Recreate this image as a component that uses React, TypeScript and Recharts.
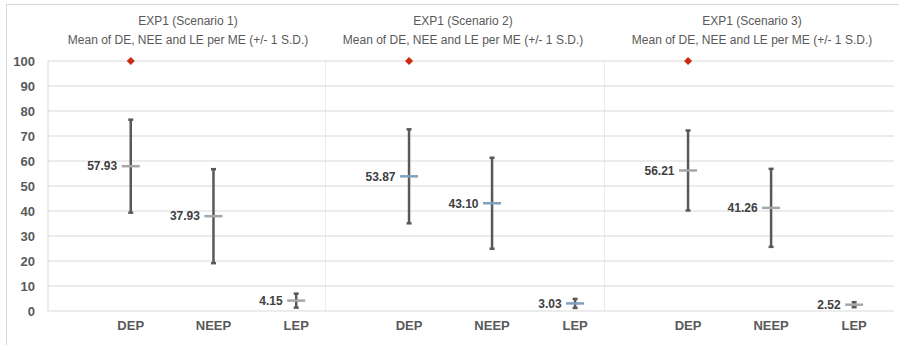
import { ComposedChart, Scatter, ErrorBar, XAxis, YAxis, CartesianGrid, ReferenceLine, LabelList } from 'recharts';

const categories = ['DEP', 'NEEP', 'LEP'];
const scenarioTitles = ['EXP1 (Scenario 1)', 'EXP1 (Scenario 2)', 'EXP1 (Scenario 3)'];
const subTitle = 'Mean of DE, NEE and LE per ME (+/- 1 S.D.)';

const means1 = [57.93, 37.93, 4.15];
const sds1 = [18.6, 18.8, 2.8];
const means2 = [53.87, 43.1, 3.03];
const sds2 = [18.8, 18.2, 1.8];
const means3 = [56.21, 41.26, 2.52];
const sds3 = [16.0, 15.6, 1.0];

// red marker shown above DEP in every panel
const maxDEP = [100, 100, 100];

const yTicks = [0, 10, 20, 30, 40, 50, 60, 70, 80, 90, 100];

const FONT = '"Liberation Sans", Arial, sans-serif';

type PanelProps = {
  left: number;
  width: number;
  titleCenter: number;
  title: string;
  means: number[];
  sds: number[];
  maxValue: number;
  markerColor: string;
  showYAxis: boolean;
  xMax: number;
  edgeLines: number[];
};

const Panel = ({ left, width, titleCenter, title, means, sds, maxValue, markerColor, showYAxis, xMax, edgeLines }: PanelProps) => {
  const data = categories.map((c, i) => ({ x: i + 1, mean: means[i], sd: sds[i] }));
  const maxData = [{ x: 1, y: maxValue }];

  const meanShape = (p: any) => (
    <line x1={p.cx - 9} x2={p.cx + 9} y1={p.cy} y2={p.cy} stroke={markerColor} strokeWidth={2.5} />
  );
  const diamond = (p: any) => (
    <path d={`M${p.cx},${p.cy - 4}L${p.cx + 4},${p.cy}L${p.cx},${p.cy + 4}L${p.cx - 4},${p.cy}Z`} fill="#cc2a0e" />
  );

  return (
    <>
      <div
        style={{
          position: 'absolute',
          left: titleCenter - 200,
          width: 400,
          top: 12,
          textAlign: 'center',
          fontSize: 12,
          lineHeight: '19px',
          color: '#595959',
          fontFamily: FONT,
        }}
      >
        <div>{title}</div>
        <div>{subTitle}</div>
      </div>
      <div style={{ position: 'absolute', left, top: 0 }}>
        <ComposedChart width={width} height={345} margin={{ top: 61, right: 0, bottom: 0, left: 0 }}>
          <CartesianGrid vertical={false} stroke="#d9d9d9" />
          <XAxis
            type="number"
            dataKey="x"
            domain={[0, xMax]}
            ticks={[1, 2, 3]}
            tickFormatter={(v) => categories[v - 1] ?? ''}
            axisLine={false}
            tickLine={false}
            tickSize={0}
            tickMargin={10}
            height={34}
            allowDataOverflow
            tick={{ fontSize: 13, fontWeight: 'bold', fill: '#595959' }}
          />
          <YAxis
            type="number"
            domain={[0, 100]}
            ticks={yTicks}
            hide={!showYAxis}
            width={48}
            axisLine={false}
            tickLine={false}
            tickSize={0}
            tickMargin={13}
            tick={{ fontSize: 13, fontWeight: 'bold', fill: '#595959' }}
          />
          {edgeLines.map((v) => (
            <ReferenceLine key={v} x={v} stroke="#d9d9d9" ifOverflow="visible" />
          ))}
          <Scatter data={data} dataKey="mean" shape={meanShape} isAnimationActive={false}>
            <LabelList
              dataKey="mean"
              position="left"
              offset={9}
              formatter={(v: any) => Number(v).toFixed(2)}
              style={{ fontSize: 12, fontWeight: 'bold', fill: '#404040' }}
            />
          </Scatter>
          <Scatter data={data} dataKey="mean" shape={() => <g />} isAnimationActive={false}>
            <ErrorBar dataKey="sd" direction="y" stroke="#595959" strokeWidth={2.5} width={2.5} isAnimationActive={false} />
          </Scatter>
          <Scatter data={maxData} dataKey="y" shape={diamond} isAnimationActive={false} />
        </ComposedChart>
      </div>
    </>
  );
};

export default function App() {
  return (
    <div style={{ position: 'absolute', left: 0, top: 0, width: 899, height: 345, background: '#fff', fontFamily: FONT, overflow: 'hidden' }}>
      <div style={{ position: 'absolute', left: 6, top: 4, width: 900, height: 350, borderTop: '1px solid #d9d9d9', borderLeft: '1px solid #d9d9d9' }} />
      <Panel left={0} width={326} titleCenter={188} title={scenarioTitles[0]} means={means1} sds={sds1} maxValue={maxDEP[0]}
        markerColor="#a6a6a6" showYAxis xMax={3.36} edgeLines={[0, 3.36]} />
      <Panel left={326} width={279} titleCenter={463} title={scenarioTitles[1]} means={means2} sds={sds2} maxValue={maxDEP[1]}
        markerColor="#7f9fbf" showYAxis={false} xMax={3.36} edgeLines={[3.36]} />
      <Panel left={605} width={289} titleCenter={752} title={scenarioTitles[2]} means={means3} sds={sds3} maxValue={maxDEP[2]}
        markerColor="#a6a6a6" showYAxis={false} xMax={3.48} edgeLines={[]} />
    </div>
  );
}
